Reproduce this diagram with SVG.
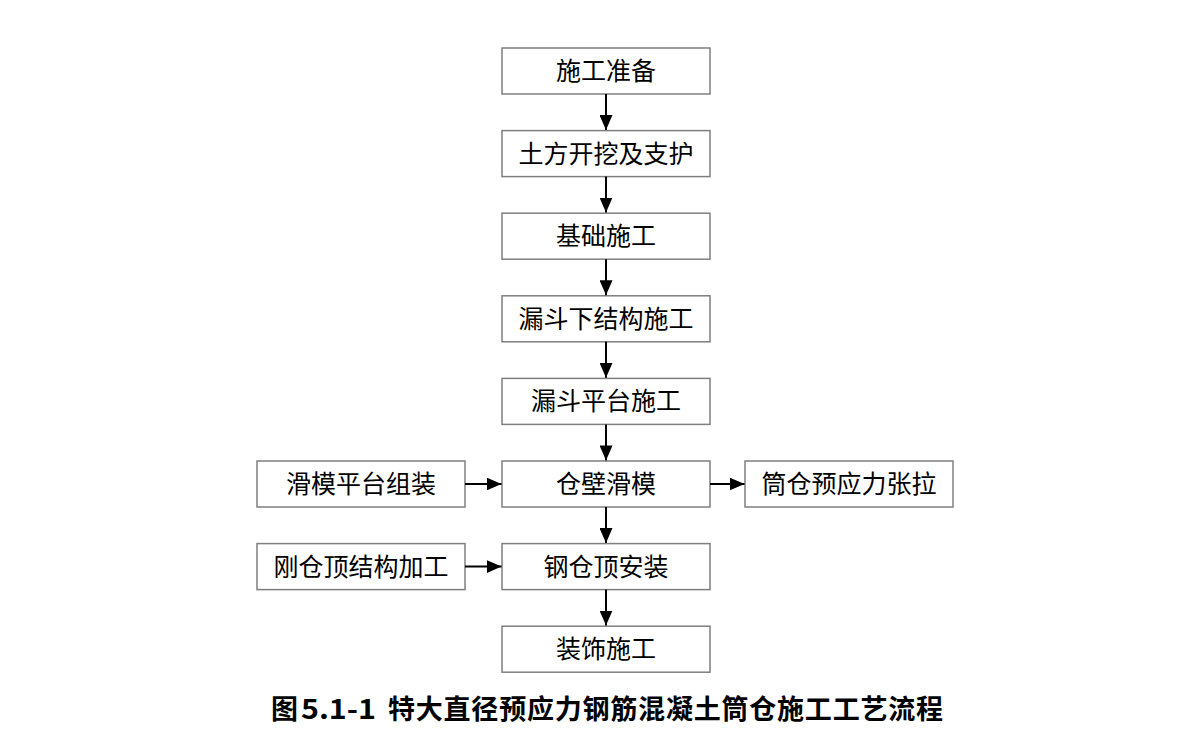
<svg xmlns="http://www.w3.org/2000/svg" width="1202" height="740" viewBox="0 0 1202 740">
<style>
.box{fill:#fff;stroke:#7f7f7f;stroke-width:1.5}
.lbl{font-family:"Noto Sans CJK SC","Noto Sans CJK JP",sans-serif;font-size:25px;fill:#000;text-anchor:middle}
.cap{font-family:"Noto Sans CJK SC","Noto Sans CJK JP",sans-serif;font-size:27px;font-weight:bold;fill:#000}
.arr{stroke:#000;stroke-width:2;fill:none;marker-end:url(#ah)}
</style>
<defs>
<marker id="ah" viewBox="0 0 15 13" refX="15" refY="6.5" markerWidth="15" markerHeight="13" markerUnits="userSpaceOnUse" orient="auto">
<path d="M0,0 L15,6.5 L0,13 z" fill="#000"/>
</marker>
</defs>
<rect width="1202" height="740" fill="#fff"/>
<g id="n1"><rect class="box" x="502" y="48" width="208" height="46"/><text class="lbl" x="606" y="80">施工准备</text></g>
<g id="n2"><rect class="box" x="502" y="130.6" width="208" height="46"/><text class="lbl" x="606" y="162.6">土方开挖及支护</text></g>
<g id="n3"><rect class="box" x="502" y="213.2" width="208" height="46"/><text class="lbl" x="606" y="245.2">基础施工</text></g>
<g id="n4"><rect class="box" x="502" y="295.8" width="208" height="46"/><text class="lbl" x="606" y="327.8">漏斗下结构施工</text></g>
<g id="n5"><rect class="box" x="502" y="378.4" width="208" height="46"/><text class="lbl" x="606" y="410.4">漏斗平台施工</text></g>
<g id="n6"><rect class="box" x="502" y="461" width="208" height="46"/><text class="lbl" x="606" y="493">仓壁滑模</text></g>
<g id="n7"><rect class="box" x="502" y="543.6" width="208" height="46"/><text class="lbl" x="606" y="575.6">钢仓顶安装</text></g>
<g id="n8"><rect class="box" x="502" y="626.2" width="208" height="46"/><text class="lbl" x="606" y="658.2">装饰施工</text></g>
<g id="s1"><rect class="box" x="257" y="461" width="208" height="46"/><text class="lbl" x="361" y="493">滑模平台组装</text></g>
<g id="s2"><rect class="box" x="745" y="461" width="208" height="46"/><text class="lbl" x="849" y="493">筒仓预应力张拉</text></g>
<g id="s3"><rect class="box" x="257" y="543.6" width="208" height="46"/><text class="lbl" x="361" y="575.6">刚仓顶结构加工</text></g>
<g id="connectors">
<line class="arr" x1="606" y1="94" x2="606" y2="130"/>
<line class="arr" x1="606" y1="176.6" x2="606" y2="212.6"/>
<line class="arr" x1="606" y1="259.2" x2="606" y2="295.2"/>
<line class="arr" x1="606" y1="341.8" x2="606" y2="377.8"/>
<line class="arr" x1="606" y1="424.4" x2="606" y2="460.4"/>
<line class="arr" x1="606" y1="507" x2="606" y2="543"/>
<line class="arr" x1="606" y1="589.6" x2="606" y2="625.6"/>
<line class="arr" x1="465" y1="484" x2="501.5" y2="484"/>
<line class="arr" x1="710" y1="484" x2="744.5" y2="484"/>
<line class="arr" x1="465" y1="566.6" x2="501.5" y2="566.6"/>
</g>
<text class="cap" y="719"><tspan x="271">图</tspan><tspan x="301" textLength="75" lengthAdjust="spacingAndGlyphs">5.1-1</tspan><tspan x="388" textLength="555" lengthAdjust="spacing">特大直径预应力钢筋混凝土筒仓施工工艺流程</tspan></text>
</svg>
